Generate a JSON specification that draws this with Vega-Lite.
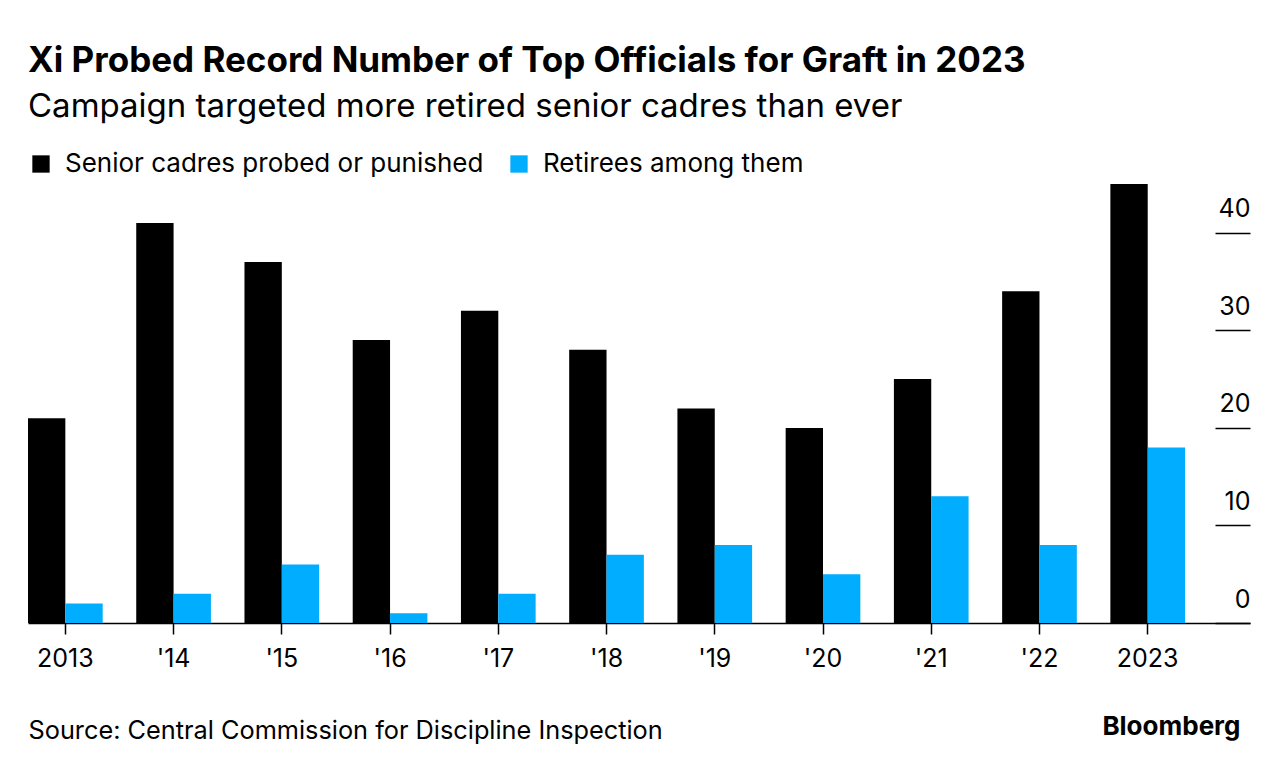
{
  "$schema": "https://vega.github.io/schema/vega-lite/v6.json",
  "width": 1222,
  "height": 439,
  "autosize": {"type": "none"},
  "padding": {"left": 28, "top": 184, "right": 29, "bottom": 147},
  "background": "white",
  "config": {
    "font": "Inter",
    "view": {"stroke": null}
  },
  "title": {
    "text": "Xi Probed Record Number of Top Officials for Graft in 2023",
    "subtitle": "Campaign targeted more retired senior cadres than ever",
    "anchor": "start",
    "frame": "group",
    "font": "Inter",
    "fontSize": 35,
    "fontWeight": "bold",
    "color": "#000000",
    "subtitleFont": "Inter",
    "subtitleFontSize": 33,
    "subtitleColor": "#000000",
    "subtitlePadding": 12,
    "offset": 27
  },
  "data": {
    "values": [
      {"year": "2013", "series": "Senior cadres probed or punished", "value": 21},
      {"year": "2013", "series": "Retirees among them", "value": 2},
      {"year": "'14", "series": "Senior cadres probed or punished", "value": 41},
      {"year": "'14", "series": "Retirees among them", "value": 3},
      {"year": "'15", "series": "Senior cadres probed or punished", "value": 37},
      {"year": "'15", "series": "Retirees among them", "value": 6},
      {"year": "'16", "series": "Senior cadres probed or punished", "value": 29},
      {"year": "'16", "series": "Retirees among them", "value": 1},
      {"year": "'17", "series": "Senior cadres probed or punished", "value": 32},
      {"year": "'17", "series": "Retirees among them", "value": 3},
      {"year": "'18", "series": "Senior cadres probed or punished", "value": 28},
      {"year": "'18", "series": "Retirees among them", "value": 7},
      {"year": "'19", "series": "Senior cadres probed or punished", "value": 22},
      {"year": "'19", "series": "Retirees among them", "value": 8},
      {"year": "'20", "series": "Senior cadres probed or punished", "value": 20},
      {"year": "'20", "series": "Retirees among them", "value": 5},
      {"year": "'21", "series": "Senior cadres probed or punished", "value": 25},
      {"year": "'21", "series": "Retirees among them", "value": 13},
      {"year": "'22", "series": "Senior cadres probed or punished", "value": 34},
      {"year": "'22", "series": "Retirees among them", "value": 8},
      {"year": "2023", "series": "Senior cadres probed or punished", "value": 45},
      {"year": "2023", "series": "Retirees among them", "value": 18}
    ]
  },
  "mark": {"type": "bar"},
  "encoding": {
    "x": {
      "field": "year",
      "type": "nominal",
      "sort": null,
      "scale": {"paddingInner": 0.31, "paddingOuter": 0.3, "align": 0},
      "axis": {
        "title": "Source: Central Commission for Discipline Inspection",
        "titleFont": "Inter",
        "titleFontSize": 25.3,
        "titleFontWeight": "normal",
        "titleColor": "#000000",
        "titleAnchor": "start",
        "titleAlign": "left",
        "titleBaseline": "alphabetic",
        "titleX": 0,
        "titleY": 115,
        "labelAngle": 0,
        "labelFont": "Inter",
        "labelFontSize": 25,
        "labelColor": "#000000",
        "labelPadding": 12,
        "tickSize": 11,
        "tickColor": "#000000",
        "tickWidth": 1.5,
        "domainColor": "#000000",
        "domainWidth": 1.5
      }
    },
    "xOffset": {
      "field": "series",
      "type": "nominal",
      "sort": ["Senior cadres probed or punished", "Retirees among them"],
      "scale": {"paddingInner": 0, "paddingOuter": 0}
    },
    "y": {
      "field": "value",
      "type": "quantitative",
      "scale": {"domain": [0, 45], "nice": false},
      "axis": {
        "orient": "right",
        "values": [0, 10, 20, 30, 40],
        "grid": false,
        "domain": false,
        "tickSize": -35,
        "tickColor": "#000000",
        "tickWidth": 1.5,
        "labelFont": "Inter",
        "labelFontSize": 25,
        "labelColor": "#000000",
        "labelAlign": "right",
        "labelBaseline": "alphabetic",
        "labelPadding": 35,
        "labelOffset": -16,
        "title": "Bloomberg",
        "titleFont": "Inter",
        "titleAngle": 0,
        "titleAlign": "right",
        "titleBaseline": "alphabetic",
        "titleFontSize": 26,
        "titleFontWeight": "bold",
        "titleColor": "#000000",
        "titleX": -10,
        "titleY": 550
      }
    },
    "color": {
      "field": "series",
      "type": "nominal",
      "sort": ["Senior cadres probed or punished", "Retirees among them"],
      "scale": {"domain": ["Senior cadres probed or punished", "Retirees among them"], "range": ["#000000", "#00adff"]},
      "legend": {
        "orient": "top",
        "direction": "horizontal",
        "title": null,
        "symbolType": "square",
        "symbolSize": 300,
        "symbolStrokeWidth": 0,
        "labelFont": "Inter",
        "labelFontSize": 26,
        "labelColor": "#000000",
        "labelLimit": 600,
        "labelOffset": 11,
        "columnPadding": 22,
        "symbolOffset": 0,
        "offset": 7
      }
    }
  }
}
